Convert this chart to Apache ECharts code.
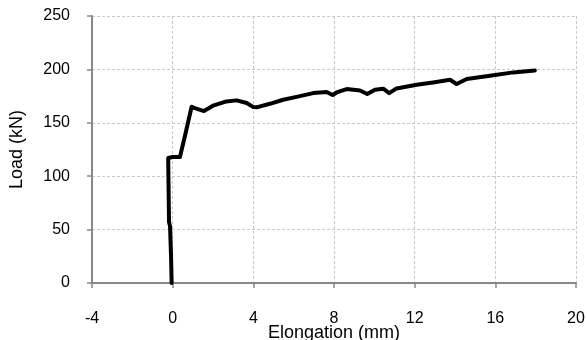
<!DOCTYPE html>
<html><head><meta charset="utf-8">
<script src="https://cdn.jsdelivr.net/npm/echarts@6/dist/echarts.min.js"></script>
<style>html,body{margin:0;padding:0;background:#fff}#c{width:587px;height:340px}</style>
</head><body><div id="c"></div>
<script>
const elongation = [-0.05, -0.08, -0.13, -0.18, -0.2, -0.22, -0.22, 0.0, 0.36, 0.6, 0.94, 1.1, 1.55, 2.0, 2.67, 3.17, 3.67, 4.0, 4.16, 4.82, 5.48, 6.2, 6.97, 7.63, 7.93, 8.13, 8.63, 9.29, 9.65, 10.03, 10.44, 10.74, 11.1, 12.1, 13.0, 13.75, 14.08, 14.58, 15.73, 16.89, 17.96];
const load = [0, 25, 53, 57, 85, 115, 117, 118, 118, 137, 165, 163.8, 161, 166, 170, 171, 168.5, 164.7, 164.5, 167.8, 171.6, 174.5, 177.8, 178.8, 176, 178.4, 181.6, 180.3, 176.9, 181, 181.9, 177.8, 182.2, 185.6, 188, 190.3, 186.3, 191, 194, 197.2, 199];
const xTicks = [-4, 0, 4, 8, 12, 16, 20];
const yTicks = [0, 50, 100, 150, 200, 250];

const chart = echarts.init(document.getElementById('c'), null, {renderer: 'canvas'});
const font = 'Liberation Sans, Arial, sans-serif';
chart.setOption({
  animation: false,
  grid: {left: 92, right: 11, top: 16, bottom: 57, containLabel: false, outerBoundsMode: 'none'},
  xAxis: {
    type: 'value', min: xTicks[0], max: xTicks[xTicks.length-1], interval: 4,
    name: 'Elongation (mm)', nameLocation: 'middle', nameGap: 41, nameMoveOverlap: false,
    nameTextStyle: {fontFamily: font, fontSize: 18, color: '#000'},
    axisLine: {onZero: false, lineStyle: {color: '#888', width: 2}},
    axisTick: {show: true, length: 5, lineStyle: {color: '#888', width: 1.5}},
    axisLabel: {fontFamily: font, fontSize: 16, color: '#000', margin: 28},
    splitLine: {show: true, lineStyle: {color: '#c8c8c8', type: [3, 2], width: 1}}
  },
  yAxis: {
    type: 'value', min: yTicks[0], max: yTicks[yTicks.length-1], interval: 50,
    name: 'Load (kN)', nameLocation: 'middle', nameGap: 66, nameRotate: 90, nameMoveOverlap: false,
    nameTextStyle: {fontFamily: font, fontSize: 18, color: '#000'},
    axisLine: {show: true, onZero: false, lineStyle: {color: '#888', width: 2}},
    axisTick: {show: true, length: 5, lineStyle: {color: '#888', width: 1.5}},
    axisLabel: {fontFamily: font, fontSize: 16, color: '#000', margin: 22},
    splitLine: {show: true, lineStyle: {color: '#c8c8c8', type: [3, 2], width: 1}}
  },
  series: [{
    type: 'line', data: elongation.map((x, i) => [x, load[i]]),
    showSymbol: false, smooth: false,
    lineStyle: {color: '#000', width: 4, cap: 'round', join: 'round'}
  }]
});
</script></body></html>
